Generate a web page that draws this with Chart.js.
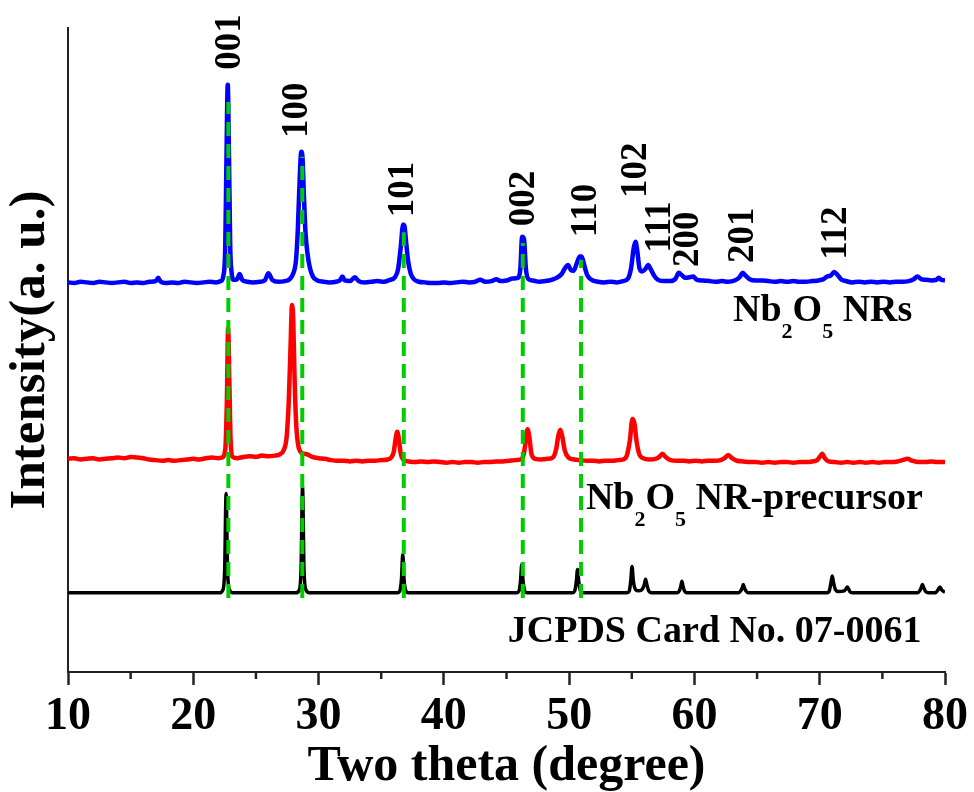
<!DOCTYPE html>
<html>
<head>
<meta charset="utf-8">
<title>XRD patterns</title>
<script src="https://cdn.jsdelivr.net/npm/chart.js@4.4.0/dist/chart.umd.min.js"></script>
<style>
  html, body { margin: 0; padding: 0; background: #fff; }
  canvas { display: block; }
</style>
</head>
<body>
<canvas id="xrd" width="974" height="792"></canvas>
<script>
"use strict"

// XRD patterns, [two theta, intensity (a.u., stacked offsets)]
const nrsPattern = [
    [10.0,60.5],[10.5,60.4],[11.0,60.6],[11.5,60.5],[12.0,60.4],[12.5,60.6],[13.0,60.5],[13.5,60.4],
    [14.0,60.5],[14.5,60.6],[15.0,60.4],[15.5,60.5],[16.0,60.4],[16.5,60.6],[17.0,60.7],[17.2,61.2],
    [17.4,60.6],[17.8,60.4],[18.3,60.5],[18.8,60.4],[19.3,60.6],[19.8,60.5],[20.3,60.4],[20.8,60.5],
    [21.3,60.6],[21.8,60.5],[22.2,60.7],[22.4,61.5],[22.55,66],[22.65,80],[22.75,91.2],[22.85,80],
    [22.95,66],[23.05,62.2],[23.2,60.9],[23.5,61.0],[23.7,61.8],[23.9,60.9],[24.3,60.6],[24.8,60.5],
    [25.3,60.6],[25.7,60.8],[26.0,61.9],[26.3,60.9],[26.8,60.6],[27.3,60.7],[27.7,61.0],[28.0,62.0],
    [28.2,64],[28.35,69],[28.5,77],[28.62,80.8],[28.72,79.8],[28.82,74.5],[28.95,68.5],[29.1,65.2],
    [29.3,62.8],[29.55,61.4],[29.9,60.8],[30.4,60.6],[30.9,60.5],[31.4,60.6],[31.7,60.8],[31.9,61.4],
    [32.1,60.8],[32.5,60.7],[32.9,61.3],[33.2,60.7],[33.7,60.5],[34.2,60.6],[34.7,60.7],[35.2,60.6],
    [35.7,60.9],[36.1,61.3],[36.35,62.6],[36.55,65.8],[36.75,69.5],[36.85,69.3],[37.0,66.5],[37.15,63.8],
    [37.35,61.9],[37.6,61.0],[38.0,60.6],[38.5,60.5],[39.0,60.4],[39.5,60.4],[40.0,60.5],[40.5,60.4],
    [41.0,60.5],[41.5,60.6],[42.0,60.5],[42.5,60.6],[42.9,60.9],[43.3,60.6],[43.8,60.7],[44.2,61.0],
    [44.5,60.7],[45.0,60.8],[45.5,61.1],[45.9,61.2],[46.1,62.5],[46.25,67.6],[46.4,67.2],[46.55,62.6],
    [46.75,61.0],[47.1,60.8],[47.6,60.6],[48.1,60.7],[48.6,60.9],[49.0,61.2],[49.4,61.8],[49.7,62.8],
    [49.9,63.2],[50.15,62.4],[50.35,62.3],[50.6,63.4],[50.85,64.5],[51.0,64.5],[51.2,63.2],[51.45,61.6],
    [51.8,60.9],[52.3,60.6],[52.8,60.5],[53.3,60.6],[53.8,60.5],[54.3,60.7],[54.7,61.1],[54.95,62.8],
    [55.15,65.8],[55.3,66.8],[55.45,65.2],[55.6,62.8],[55.8,62.2],[56.05,62.5],[56.3,63.2],[56.5,62.6],
    [56.8,61.5],[57.1,60.9],[57.6,60.7],[58.1,60.7],[58.5,61.1],[58.75,62.0],[59.0,61.6],[59.3,61.2],
    [59.6,61.3],[59.9,61.4],[60.2,60.9],[60.7,60.8],[61.2,60.7],[61.7,60.6],[62.2,60.7],[62.7,60.6],
    [63.2,60.8],[63.6,61.3],[63.85,62.0],[64.1,61.5],[64.4,61.0],[64.9,60.8],[65.4,60.8],[65.9,60.7],
    [66.4,60.6],[66.9,60.7],[67.4,60.6],[67.9,60.7],[68.4,60.6],[68.9,60.6],[69.4,60.7],[69.9,60.8],
    [70.3,61.0],[70.6,61.4],[70.9,61.6],[71.15,62.1],[71.4,61.7],[71.7,61.0],[72.1,60.7],[72.6,60.5],
    [73.1,60.6],[73.6,60.5],[74.1,60.6],[74.6,60.5],[75.1,60.6],[75.6,60.5],[76.1,60.6],[76.6,60.6],
    [77.1,60.7],[77.5,61.0],[77.8,61.4],[78.1,61.0],[78.5,60.9],[78.9,60.8],[79.3,60.9],[79.5,61.2],
    [79.7,60.9],[80.0,60.8]
];

const precursorPattern = [
    [10.0,33.1],[10.5,33.2],[11.0,33.0],[11.5,33.1],[12.0,33.2],[12.5,33.0],[13.0,33.1],[13.5,33.2],
    [14.0,33.3],[14.5,33.2],[15.0,33.4],[15.5,33.3],[16.0,33.2],[16.5,33.0],[17.0,32.9],[17.5,32.8],
    [18.0,32.9],[18.5,32.8],[19.0,32.9],[19.5,33.0],[20.0,33.1],[20.5,33.0],[21.0,33.2],[21.5,33.3],
    [22.0,33.2],[22.3,33.3],[22.55,34.5],[22.68,42],[22.78,53.4],[22.88,45],[22.98,36],[23.15,33.4],
    [23.5,33.2],[24.0,33.4],[24.5,33.5],[25.0,33.4],[25.5,33.6],[26.0,33.5],[26.5,33.6],[26.9,33.8],
    [27.2,34.4],[27.45,36.5],[27.62,42],[27.77,51],[27.88,57.0],[27.98,54.5],[28.08,46],[28.2,39],
    [28.35,35.5],[28.55,34.2],[28.8,33.9],[29.1,33.8],[29.5,33.4],[30.0,33.2],[30.5,33.1],[31.0,32.9],
    [31.5,32.8],[32.0,32.8],[32.5,32.7],[33.0,32.8],[33.5,32.7],[34.0,32.8],[34.5,32.8],[35.0,32.9],
    [35.5,33.0],[35.8,33.3],[36.0,34.2],[36.15,36.2],[36.28,37.3],[36.42,36.0],[36.55,34.0],[36.75,33.0],
    [37.2,32.7],[37.7,32.6],[38.2,32.7],[38.7,32.6],[39.2,32.7],[39.7,32.6],[40.2,32.5],[40.7,32.6],
    [41.2,32.5],[41.7,32.6],[42.2,32.6],[42.7,32.5],[43.2,32.6],[43.7,32.6],[44.2,32.7],[44.7,32.7],
    [45.2,32.8],[45.7,32.9],[46.1,33.0],[46.35,33.6],[46.55,36.0],[46.68,37.7],[46.82,36.5],[47.0,33.8],
    [47.3,33.1],[47.8,33.0],[48.3,33.1],[48.7,33.3],[48.95,34.5],[49.15,36.8],[49.3,37.6],[49.45,36.6],
    [49.65,34.4],[49.95,33.3],[50.4,33.0],[50.9,32.9],[51.4,32.8],[51.9,32.8],[52.4,32.7],[52.9,32.8],
    [53.4,32.8],[53.9,32.9],[54.3,33.0],[54.6,33.6],[54.85,36.0],[55.05,39.3],[55.2,38.7],[55.4,35.6],
    [55.6,33.8],[55.9,33.2],[56.4,33.0],[56.9,33.1],[57.2,33.4],[57.45,33.9],[57.7,33.4],[58.1,32.9],
    [58.6,32.8],[59.1,32.8],[59.6,32.7],[60.1,32.8],[60.6,32.7],[61.1,32.8],[61.6,32.8],[62.1,32.9],
    [62.4,33.2],[62.7,33.7],[63.0,33.2],[63.4,32.8],[63.9,32.7],[64.4,32.6],[64.9,32.6],[65.4,32.5],
    [65.9,32.6],[66.4,32.5],[66.9,32.6],[67.4,32.6],[67.9,32.5],[68.4,32.6],[68.9,32.6],[69.4,32.7],
    [69.8,32.9],[70.0,33.4],[70.2,33.9],[70.4,33.2],[70.7,32.7],[71.2,32.6],[71.7,32.5],[72.2,32.6],
    [72.7,32.5],[73.2,32.6],[73.7,32.5],[74.2,32.6],[74.7,32.5],[75.2,32.6],[75.7,32.6],[76.2,32.7],
    [76.6,32.9],[77.0,33.1],[77.4,32.8],[77.9,32.6],[78.4,32.6],[78.9,32.7],[79.4,32.6],[80.0,32.6]
];

// reference card, orthorhombic/hexagonal Nb2O5
const cardPattern = [
    [10.0,12.3],[22.1,12.3],[22.35,12.7],[22.5,15.5],[22.62,27.7],[22.74,15.5],[22.9,12.7],[23.15,12.3],
    [28.2,12.3],[28.45,12.7],[28.6,15.8],[28.72,28.8],[28.84,15.8],[29.0,12.7],[29.25,12.3],
    [36.3,12.3],[36.5,12.7],[36.62,14.5],[36.72,18.3],[36.82,14.5],[36.95,12.7],[37.15,12.3],
    [45.8,12.3],[46.0,12.6],[46.12,14.2],[46.22,16.7],[46.32,14.2],[46.45,12.6],[46.65,12.3],
    [50.25,12.3],[50.45,12.6],[50.57,14.0],[50.67,15.9],[50.77,14.0],[50.9,12.6],[51.1,12.3],
    [54.6,12.3],[54.8,12.6],[54.92,14.2],[55.02,16.4],[55.12,14.2],[55.3,12.8],[55.55,12.6],
    [55.85,12.9],[56.0,13.6],[56.1,14.4],[56.2,13.6],[56.35,12.6],[56.6,12.3],
    [58.6,12.3],[58.8,12.6],[58.92,13.4],[59.0,14.1],[59.08,13.4],[59.2,12.6],[59.4,12.3],
    [63.5,12.3],[63.7,12.6],[63.82,13.1],[63.9,13.6],[63.98,13.1],[64.1,12.6],[64.3,12.3],
    [70.6,12.3],[70.78,12.7],[70.9,13.9],[71.0,14.9],[71.1,13.9],[71.25,12.8],[71.5,12.5],
    [71.95,12.6],[72.1,12.9],[72.2,13.2],[72.3,12.9],[72.45,12.4],[72.65,12.3],
    [77.8,12.3],[77.98,12.6],[78.1,13.1],[78.2,13.6],[78.3,13.1],[78.45,12.5],[78.7,12.3],
    [79.25,12.3],[79.42,12.7],[79.6,13.2],[79.75,12.7],[80.0,12.4]
];

// dashed guides through the main reflections
const guideTheta = [22.8, 28.7, 36.8, 46.3, 50.95];
const guideTop = [88.5, 80.0, 68.3, 66.6, 64.0];
const guideBottom = 11.5;

// Miller indices above the NRs peaks
const hklText = ['001', '100', '101', '002', '110', '102', '111', '200', '201', '112'];
const hklTheta = [22.93, 28.28, 36.8, 46.43, 51.35, 55.4, 57.25, 59.5, 63.9, 71.3];
const hklBase = [93.5, 82.9, 70.6, 69.2, 67.5, 73.6, 65.1, 62.9, 63.5, 64.0];

// sample names: [text, subscript?] pieces, anchored at [theta, intensity]
const seriesNames = [
    { parts: [['Nb', 0], ['2', 1], ['O', 0], ['5', 1], [' NRs', 0]], at: [63.08, 54.5] },
    { parts: [['Nb', 0], ['2', 1], ['O', 0], ['5', 1], [' NR-precursor', 0]], at: [51.34, 25.3] },
    { parts: [['JCPDS Card No. 07-0061', 0]], at: [45.1, 4.7] }
];

// x axis: labelled ticks every 10, short ticks halfway
const majorStep = 10;
const minorTicks = [15, 25, 35, 45, 55, 65, 75];

const serif = "'Liberation Serif', 'Times New Roman', serif";

function toPoints(arr){
    return arr.map(p => ({x: p[0], y: p[1]}));
}

var datasets = [];
guideTheta.forEach((t, i) => {
    datasets.push({
        data: [{x: t, y: guideBottom}, {x: t, y: guideTop[i]}],
        borderColor: '#00cc00',
        borderWidth: 4,
        borderDash: [14, 8],
        order: 0
    });
});
datasets.push({data: toPoints(nrsPattern), borderColor: '#0000ff', borderWidth: 4.5, cubicInterpolationMode: 'monotone', order: 1});
datasets.push({data: toPoints(precursorPattern), borderColor: '#ff0000', borderWidth: 4.5, cubicInterpolationMode: 'monotone', order: 2});
datasets.push({data: toPoints(cardPattern), borderColor: '#000000', borderWidth: 3.5, cubicInterpolationMode: 'monotone', order: 3});

// short minor ticks under the x axis (major ones come from the scale)
const minorTickMarks = {
    id: 'minorTickMarks',
    afterDraw(chart){
        var ctx = chart.ctx;
        var x = chart.scales.x;
        var y0 = chart.chartArea.bottom;
        ctx.save();
        ctx.strokeStyle = '#222';
        ctx.lineWidth = 2.5;
        minorTicks.forEach(v => {
            var px = x.getPixelForValue(v);
            ctx.beginPath();
            ctx.moveTo(px, y0);
            ctx.lineTo(px, y0 + 7);
            ctx.stroke();
        });
        ctx.restore();
    }
};

// text drawn on top of the patterns: hkl indices and sample names
const annotations = {
    id: 'annotations',
    afterDatasetsDraw(chart){
        var ctx = chart.ctx;
        var x = chart.scales.x;
        var y = chart.scales.y;
        ctx.save();
        ctx.fillStyle = '#000';

        ctx.font = 'bold 37px ' + serif;
        ctx.textAlign = 'left';
        ctx.textBaseline = 'middle';
        hklText.forEach((t, i) => {
            ctx.save();
            ctx.translate(x.getPixelForValue(hklTheta[i]), y.getPixelForValue(hklBase[i]));
            ctx.rotate(-Math.PI / 2);
            ctx.fillText(t, 0, 0);
            ctx.restore();
        });

        ctx.textBaseline = 'alphabetic';
        seriesNames.forEach(s => {
            var px = x.getPixelForValue(s.at[0]);
            var py = y.getPixelForValue(s.at[1]);
            s.parts.forEach(p => {
                // subscripts sit below the baseline
                ctx.font = p[1] ? 'bold 22px ' + serif : 'bold 38px ' + serif;
                var dy = p[1] ? 17 : 0;
                ctx.fillText(p[0], px, py + dy);
                px += ctx.measureText(p[0]).width;
            });
        });
        ctx.restore();
    }
};

new Chart(document.getElementById('xrd'), {
    type: 'line',
    data: {datasets: datasets},
    options: {
        responsive: false,
        animation: false,
        layout: {padding: {top: 28, right: 29, left: 0, bottom: 0}},
        elements: {
            point: {radius: 0},
            line: {tension: 0, borderJoinStyle: 'round', fill: false}
        },
        plugins: {
            legend: {display: false},
            tooltip: {enabled: false}
        },
        scales: {
            x: {
                type: 'linear',
                min: 10,
                max: 80,
                ticks: {
                    stepSize: majorStep,
                    autoSkip: false,
                    maxRotation: 0,
                    padding: 5,
                    color: '#000',
                    font: {family: serif, weight: 'bold', size: 46}
                },
                grid: {
                    display: true,
                    drawOnChartArea: false,
                    drawTicks: true,
                    tickLength: 13,
                    tickWidth: 2.5,
                    tickColor: '#222'
                },
                border: {color: '#222', width: 2},
                title: {
                    display: true,
                    text: 'Two theta (degree)',
                    color: '#000',
                    font: {family: serif, weight: 'bold', size: 50, lineHeight: 1.0},
                    padding: {top: 0, bottom: 0}
                },
                afterFit: s => { s.height = 120; }
            },
            y: {
                min: 0,
                max: 100,
                ticks: {display: false},
                grid: {drawOnChartArea: false, drawTicks: false},
                border: {color: '#222', width: 2},
                title: {
                    display: true,
                    text: 'Intensity(a. u.)',
                    color: '#000',
                    font: {family: serif, weight: 'bold', size: 51},
                    padding: {top: 0, bottom: 0}
                },
                afterFit: s => { s.width = 68; }
            }
        }
    },
    plugins: [annotations, minorTickMarks]
});
</script>
</body>
</html>
